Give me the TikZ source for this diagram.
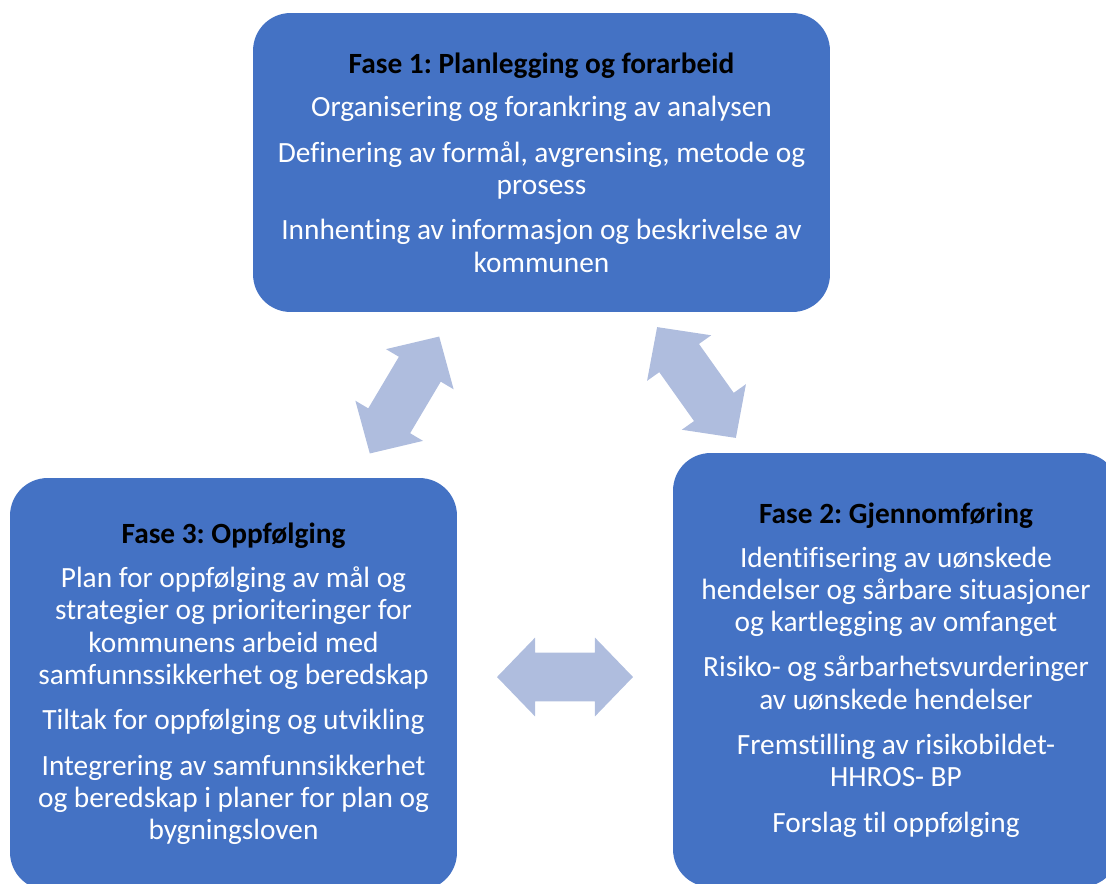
\documentclass[tikz,border=0pt]{standalone}
\usepackage{fontspec}
\setmainfont[Ligatures={NoCommon}]{Carlito}
\frenchspacing
\usetikzlibrary{shapes.arrows}
\definecolor{phase_blue}{RGB}{68, 114, 196}
\definecolor{link_blue}{RGB}{175, 189, 222}

\begin{document}
\begin{tikzpicture}[
    x=0.02cm, y=-0.02cm,
    % Phase boxes
    phase/.style={
        rectangle,
        draw=none,
        fill=phase_blue,
        rounded corners=0.75cm,
        align=center,
        inner sep=0pt,
        text=white,
        font=\fontsize{16.7}{18.4}\selectfont
    },
    % Double block arrows between the phases
    link/.style={
        double arrow,
        draw=none,
        fill=link_blue,
        inner xsep=0pt,
        inner ysep=0.48cm,
        minimum height=2.72cm,
        double arrow head extend=0.3cm,
        double arrow tip angle=92
    }
]
    \clip (0,0) rectangle (1106,883);

    % ==========================================
    % 1. PHASE BOXES
    % ==========================================

    % Fase 1
    \node (fase1) [phase, minimum width=11.54cm, minimum height=5.98cm] at (541.5,162.5) {
        \textcolor{black}{\bfseries Fase 1: Planlegging og forarbeid}\\[6.5pt]
        Organisering og forankring av analysen\\[7.4pt]
        Definering av formål, avgrensing, metode og\\
        prosess\\[7.4pt]
        Innhenting av informasjon og beskrivelse av\\
        kommunen
    };

    % Fase 2
    \node (fase2) [phase, minimum width=8.92cm, minimum height=8.68cm] at (896,670) {
        \textcolor{black}{\bfseries Fase 2: Gjennomføring}\\[6.5pt]
        Identifisering av uønskede\\
        hendelser og sårbare situasjoner\\
        og kartlegging av omfanget\\[7.4pt]
        Risiko- og sårbarhetsvurderinger\\
        av uønskede hendelser\\[7.4pt]
        Fremstilling av risikobildet-\\
        HHROS- BP\\[7.4pt]
        Forslag til oppfølging
    };

    % Fase 3
    \node (fase3) [phase, minimum width=8.94cm, minimum height=8.24cm] at (233.5,684) {
        \textcolor{black}{\bfseries Fase 3: Oppfølging}\\[6.5pt]
        Plan for oppfølging av mål og\\
        strategier og prioriteringer for\\
        kommunens arbeid med\\
        samfunnssikkerhet og beredskap\\[7.4pt]
        Tiltak for oppfølging og utvikling\\[7.4pt]
        Integrering av samfunnsikkerhet\\
        og beredskap i planer for plan og\\
        bygningsloven
    };

    % ==========================================
    % 2. LINKS BETWEEN PHASES
    % ==========================================

    \node (link13) [link, rotate=59.3] at (404.5,395) {};
    \node (link12) [link, rotate=-54.6] at (696.5,382.5) {};
    \node (link23) [link] at (565,677) {};

\end{tikzpicture}
\end{document}
